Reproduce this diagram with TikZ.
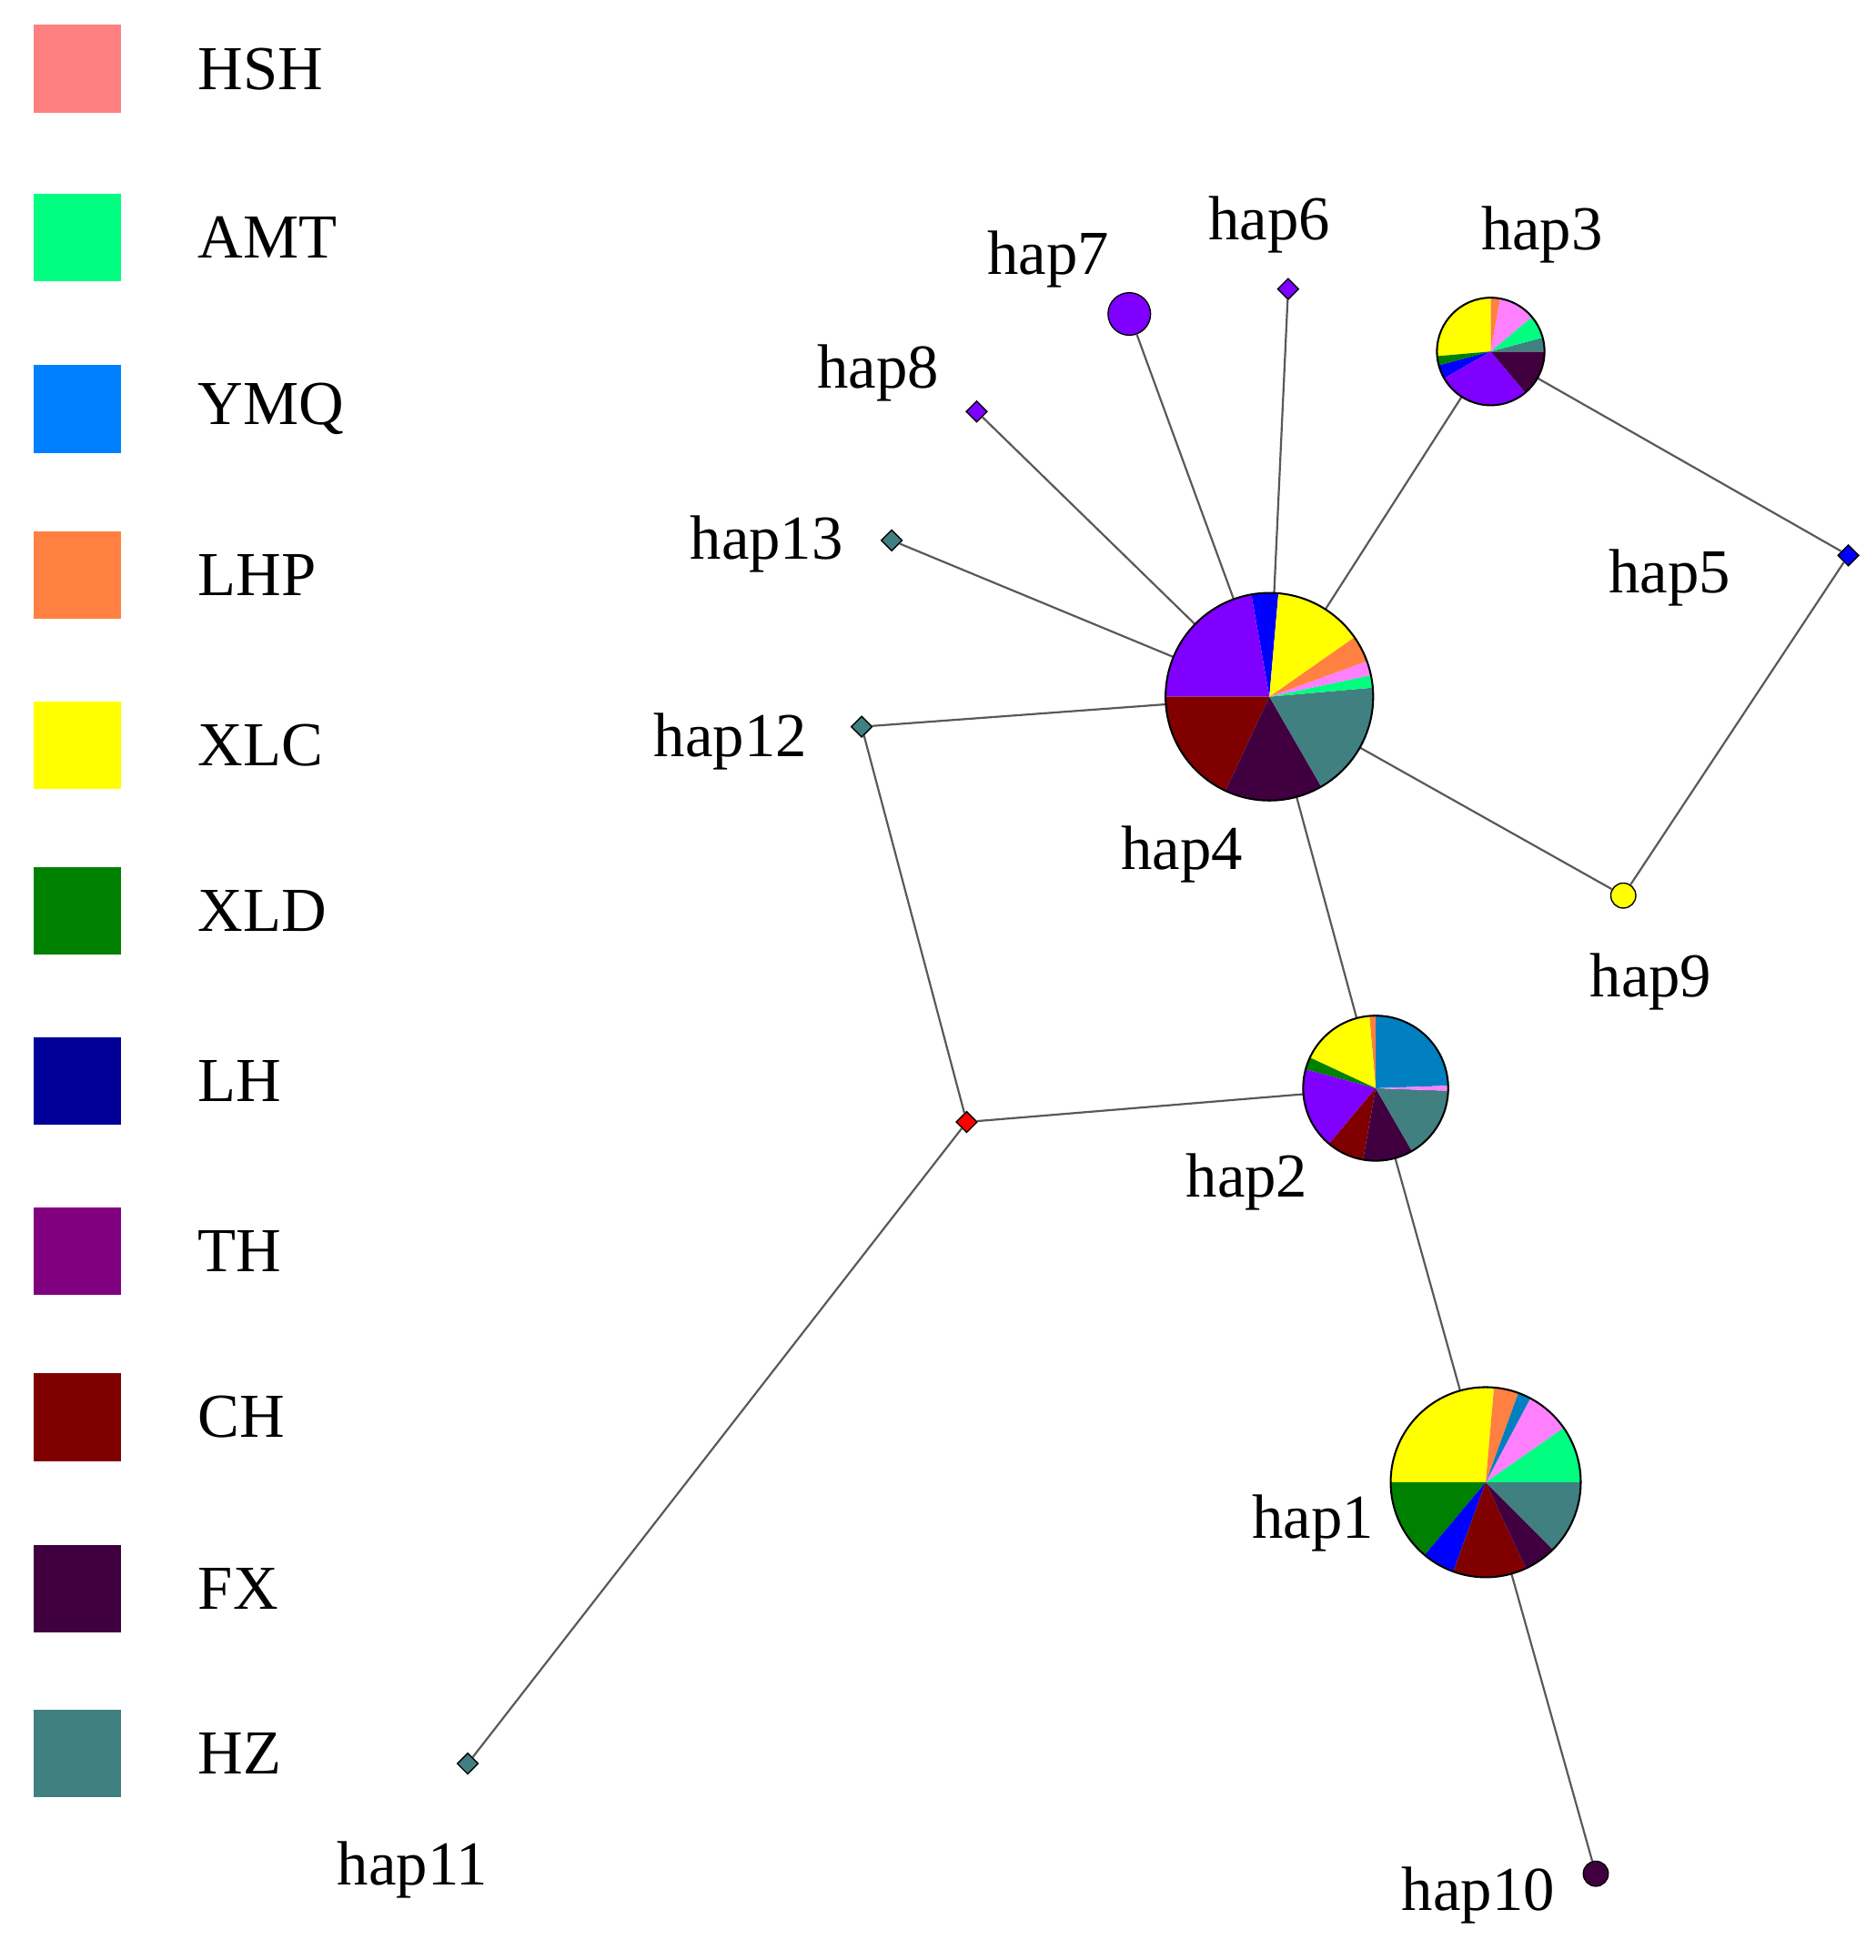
\documentclass[tikz,border=0pt]{standalone}
\usepackage{fontspec}
\setmainfont{Liberation Serif}
\usetikzlibrary{positioning,shapes.geometric}
\definecolor{cHSH}{HTML}{FF8080}
\definecolor{cAMT}{HTML}{00FF80}
\definecolor{cYMQ}{HTML}{0080FF}
\definecolor{cLHP}{HTML}{FF8040}
\definecolor{cXLC}{HTML}{FFFF00}
\definecolor{cXLD}{HTML}{008000}
\definecolor{cLH}{HTML}{000099}
\definecolor{cTH}{HTML}{800080}
\definecolor{cCH}{HTML}{800000}
\definecolor{cFX}{HTML}{400040}
\definecolor{cHZ}{HTML}{408080}
\definecolor{pViolet}{HTML}{8000FF}
\definecolor{pPink}{HTML}{FF80FF}
\definecolor{pBlue}{HTML}{0000FF}
\definecolor{pSky}{HTML}{0080C0}
\newcommand\pieslices[3]{%
  \foreach \a/\b/\c in {#3}{\fill[\c] (#1.center) -- ++(\a:#2) arc[start angle=\a,end angle=\b,radius=#2] -- cycle;}
  \draw[line width=1.5pt] (#1.center) circle[radius=#2];}
\begin{document}
\begin{tikzpicture}[x=1pt,y=-1pt,
  lbl/.style={font=\fontsize{50}{50}\selectfont},
  key/.style={minimum size=70pt,inner sep=0pt},
  hub/.style={circle,inner sep=0pt},
  dot/.style={diamond,draw,line width=1pt,inner sep=0pt,minimum size=17pt},
  link/.style={draw=gray!70!black,line width=1.6pt}]
\useasboundingbox (0,0) rectangle (1500,1567);
% legend
\foreach \c/\t/\y in {HSH/HSH/55,AMT/AMT/190,YMQ/YMQ/327,LHP/LHP/460,XLC/XLC/596,XLD/XLD/728,LH/LH/864,TH/TH/1000,CH/CH/1133,FX/FX/1270,HZ/HZ/1402}{
  \node[key,fill=c\c] (key\t) at (62,\y) {};
  \node[lbl,anchor=west] at (155,\y) {\t};
}
% haplotype nodes
\node[hub,minimum size=166pt] (hap4) at (1015,557) {};
\node[hub,minimum size=86pt] (hap3) at (1192,281) {};
\node[hub,minimum size=116pt] (hap2) at (1100,870) {};
\node[hub,minimum size=152pt] (hap1) at (1188,1185) {};
\node[circle,draw,fill=pViolet,line width=1pt,minimum size=34pt] (hap7) at (903,251) {};
\node[dot,fill=pViolet] (hap6) at (1030,231) {};
\node[dot,fill=pViolet] (hap8) at (781,329) {};
\node[dot,fill=cHZ] (hap13) at (713,432) {};
\node[dot,fill=cHZ] (hap12) at (689,581) {};
\node[dot,fill=pBlue] (hap5) at (1478,444) {};
\node[circle,draw,fill=cXLC,line width=1pt,minimum size=20pt] (hap9) at (1298,716) {};
\node[dot,fill=red] (mv) at (773,897) {};
\node[dot,fill=cHZ] (hap11) at (374,1410) {};
\node[circle,draw,fill=cFX,line width=1pt,minimum size=20pt] (hap10) at (1276,1498) {};
% links
\foreach \u/\v in {hap4/hap7,hap4/hap6,hap4/hap8,hap4/hap13,hap4/hap12,hap4/hap3,hap4/hap9,hap4/hap2,hap3/hap5,hap5/hap9,hap12/mv,mv/hap2,mv/hap11,hap2/hap1,hap1/hap10}
  \path[link] (\u) -- (\v);
% pies
\pieslices{hap4}{83pt}{85/100/pBlue,100/180/pViolet,180/245/cCH,245/300/cFX,300/365/cHZ,5/12/cAMT,12/20/pPink,20/35/cLHP,35/85/cXLC}
\pieslices{hap3}{43pt}{90/185/cXLC,185/195/cXLD,195/210/pBlue,210/310/pViolet,310/360/cFX,0/15/cHZ,15/40/cAMT,40/80/pPink,80/90/cLHP}
\pieslices{hap2}{58pt}{2/90/pSky,90/95/cLHP,95/155/cXLC,155/165/cXLD,165/230/pViolet,230/260/cCH,260/300/cFX,300/358/cHZ,358/362/pPink}
\pieslices{hap1}{76pt}{85/180/cXLC,180/230/cXLD,230/250/pBlue,250/295/cCH,295/315/cFX,315/360/cHZ,0/35/cAMT,35/62/pPink,62/70/pSky,70/85/cLHP}
% labels
\node[lbl] at (838,207) {hap7};
\node[lbl] at (1015,180) {hap6};
\node[lbl] at (1233,188) {hap3};
\node[lbl] at (702,298) {hap8};
\node[lbl] at (613,435) {hap13};
\node[lbl] at (1335,462) {hap5};
\node[lbl] at (584,593) {hap12};
\node[lbl] at (945,683) {hap4};
\node[lbl] at (1320,785) {hap9};
\node[lbl] at (997,945) {hap2};
\node[lbl] at (1050,1218) {hap1};
\node[lbl] at (330,1495) {hap11};
\node[lbl] at (1182,1515) {hap10};
\end{tikzpicture}
\end{document}
